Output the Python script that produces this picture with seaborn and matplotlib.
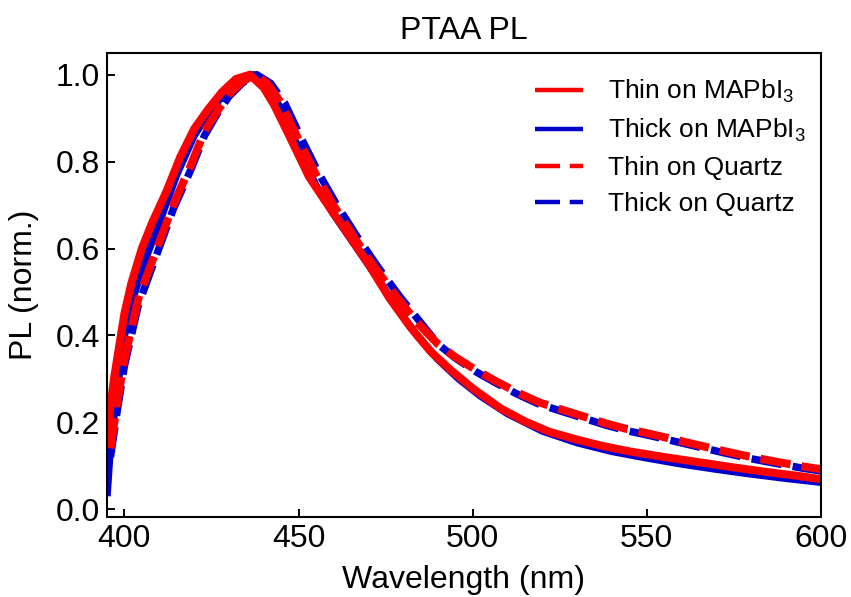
import numpy as np
import pandas as pd
import matplotlib
matplotlib.use("Agg")
import matplotlib.pyplot as plt
from matplotlib.lines import Line2D
import seaborn as sns

sns.set_style("ticks")
plt.rcParams['font.family'] = ['Liberation Sans', 'DejaVu Sans']
plt.rcParams['mathtext.fontset'] = 'custom'
plt.rcParams['mathtext.rm'] = 'Liberation Sans'
plt.rcParams['mathtext.default'] = 'regular'
plt.rcParams['lines.scale_dashes'] = False
plt.rcParams['text.color'] = 'black'
plt.rcParams['axes.labelcolor'] = 'black'
plt.rcParams['xtick.color'] = 'black'
plt.rcParams['ytick.color'] = 'black'

# ---- data ----
thin_mapi_x = [395, 397, 400, 402, 405, 408, 412, 416, 420, 424, 428, 432, 436, 440, 443, 447,
               450, 453, 458, 464, 470, 476, 482, 488, 494, 500, 508, 515, 522, 530, 537, 545,
               555, 565, 575, 585, 593, 600]
thin_mapi_y = [0.17, 0.30, 0.45, 0.52, 0.60, 0.66, 0.73, 0.81, 0.875, 0.92, 0.96, 0.99, 1.0, 0.97,
               0.93, 0.865, 0.815, 0.765, 0.705, 0.635, 0.565, 0.487, 0.42, 0.362, 0.318, 0.278,
               0.232, 0.202, 0.178, 0.16, 0.146, 0.133, 0.12, 0.108, 0.096, 0.085, 0.077, 0.069]

thick_mapi_x = [395, 396, 398, 400, 403, 406, 410, 415, 420, 425, 430, 435, 437, 441, 445, 450,
                455, 460, 466, 472, 478, 484, 490, 496, 502, 510, 520, 530, 540, 550, 560, 570,
                580, 590, 600]
thick_mapi_y = [0.03, 0.15, 0.28, 0.40, 0.50, 0.575, 0.66, 0.77, 0.86, 0.92, 0.97, 0.995, 1.0,
                0.975, 0.92, 0.83, 0.745, 0.68, 0.61, 0.54, 0.465, 0.40, 0.345, 0.30, 0.262,
                0.22, 0.18, 0.153, 0.133, 0.118, 0.104, 0.092, 0.081, 0.071, 0.062]

thin_qz_x = [396, 398, 400, 404, 409, 414, 419, 423, 427, 430, 434, 437.5, 441, 445, 450, 455,
             460, 466, 472, 478, 484, 490, 495, 501, 507, 513, 519, 526, 532, 538, 544, 550,
             557, 565, 572, 580, 588, 595, 600]
thin_qz_y = [0.14, 0.25, 0.345, 0.485, 0.593, 0.70, 0.79, 0.87, 0.92, 0.955, 0.985, 1.0, 0.98,
             0.935, 0.85, 0.77, 0.70, 0.625, 0.555, 0.49, 0.43, 0.38, 0.35, 0.32, 0.293, 0.268,
             0.246, 0.228, 0.213, 0.198, 0.185, 0.175, 0.162, 0.147, 0.134, 0.12, 0.108, 0.098,
             0.092]

thick_qz_x = [396, 398, 400, 404, 409, 414, 419, 423, 427, 430, 434, 438, 442, 446, 451, 456,
              461, 467, 473, 479, 485, 490, 495, 501, 507, 513, 519, 526, 532, 538, 544, 550,
              557, 565, 572, 580, 588, 595, 600]
thick_qz_y = [0.12, 0.23, 0.33, 0.47, 0.58, 0.69, 0.78, 0.86, 0.915, 0.95, 0.982, 1.0, 0.98,
              0.935, 0.85, 0.77, 0.70, 0.625, 0.555, 0.49, 0.43, 0.38, 0.348, 0.316, 0.289,
              0.264, 0.242, 0.224, 0.209, 0.194, 0.181, 0.171, 0.158, 0.143, 0.130, 0.116,
              0.104, 0.094, 0.088]

labels = ["Thin on MAPbI$_3$", "Thick on MAPbI$_3$", "Thin on Quartz", "Thick on Quartz"]
colors = ["#ff0000", "#0000cc", "#ff0000", "#0000cc"]
x_ticks = [400, 450, 500, 550, 600]
y_ticks = [0.0, 0.2, 0.4, 0.6, 0.8, 1.0]

# ---- figure ----
fig = plt.figure(figsize=(8.51, 5.97), dpi=100)
ax = fig.add_axes([107 / 851, 1 - 517 / 597, 714 / 851, 464 / 597])

PLOT_DASH = (22, 8)
series = [
    (thick_qz_x, thick_qz_y, colors[3], 5.4, True),
    (thick_mapi_x, thick_mapi_y, colors[1], 5.4, False),
    (thin_qz_x, thin_qz_y, colors[2], 5.8, True),
    (thin_mapi_x, thin_mapi_y, colors[0], 5.8, False),
]
for xs, ys, c, lw, dashed in series:
    df = pd.DataFrame({"x": xs, "y": ys})
    sns.lineplot(data=df, x="x", y="y", ax=ax, color=c, linewidth=lw,
                 sort=True, estimator=None, legend=False)
    ln = ax.lines[-1]
    ln.set_solid_capstyle("butt")
    ln.set_solid_joinstyle("round")
    if dashed:
        ln.set_dashes(PLOT_DASH)
        ln.set_dash_capstyle("butt")

ax.set_xlim(395, 600)
ax.set_ylim(-0.018, 1.05)
ax.set_xticks(x_ticks)
ax.set_yticks(y_ticks)
ax.set_xticklabels([str(v) for v in x_ticks])
ax.set_yticklabels([f"{v:.1f}" for v in y_ticks])
ax.tick_params(direction="in", length=6, width=1.4, labelsize=23, pad=5,
               top=False, right=False, colors="black")
for s in ax.spines.values():
    s.set_linewidth(1.5)
    s.set_color("black")
    s.set_visible(True)

ax.set_xlabel("Wavelength (nm)", fontsize=23, labelpad=8, color="black")
ax.set_ylabel("PL (norm.)", fontsize=23, labelpad=12, color="black")
ax.set_title("PTAA PL", fontsize=23, pad=10, color="black")

handles = []
for i, c in enumerate(colors):
    h = Line2D([0], [0], color=c, linewidth=3.2, solid_capstyle="butt")
    if i >= 2:
        h.set_dashes((18, 7))
        h.set_dash_capstyle("butt")
    handles.append(h)
leg = ax.legend(handles, labels, loc="upper left", bbox_to_anchor=(0.599, 0.946),
                frameon=False, fontsize=19, handlelength=1.82, handletextpad=0.95,
                labelspacing=0.45, borderpad=0, borderaxespad=0)
for t in leg.get_texts():
    t.set_color("black")

fig.savefig("out.png", dpi=100)
